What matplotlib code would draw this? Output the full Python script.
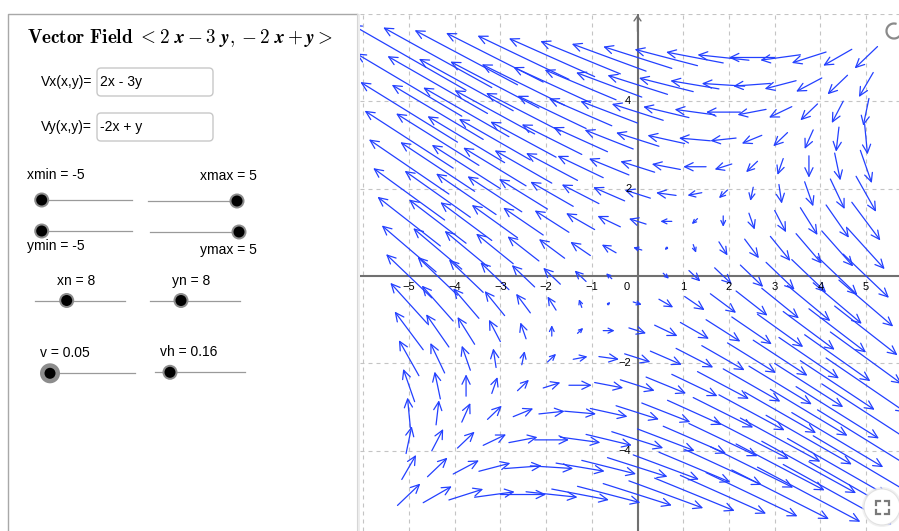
import numpy as np
import matplotlib.pyplot as plt
from matplotlib.patches import (FancyArrowPatch, ArrowStyle, FancyBboxPatch,
                                Circle, Rectangle, Arc)

plt.rcParams['mathtext.fontset'] = 'cm'

# --- field <2x - 3y, -2x + y> and slider settings ---
vx_text = "2x - 3y"
vy_text = "-2x + y"
xmin, xmax = -5, 5
ymin, ymax = -5, 5
xn, yn = 8, 8
v = 0.05
vh = 0.16


def Vx(x, y):
    return 2 * x - 3 * y


def Vy(x, y):
    return -2 * x + y


x_ticks = [-5, -4, -3, -2, -1, 1, 2, 3, 4, 5]
y_ticks = [-4, -2, 2, 4]

# visible window of the graphics view
view_x = (-6.07, 5.72)
view_y = (-5.835, 5.995)

W, H = 899, 531
GX, GY = 360, 14          # graphics view origin (px)
blue = '#2340ff'
axis_col = '#707070'
grid_col = '#c4c4c4'
panel_font = 'Liberation Sans'

fig = plt.figure(figsize=(W / 100, H / 100), dpi=100)
fig.patch.set_facecolor('white')

# --- left panel (pixel coords) ---
panel = fig.add_axes([0, 0, 1, 1])
panel.set_xlim(0, W)
panel.set_ylim(H, 0)
panel.axis('off')

panel.plot([8, 8, 357], [H, 14, 14], color='#a8a8a8', lw=1.0)
panel.add_patch(Rectangle((357, 14), 5, H - 14, fc='#eeeeee', ec='none'))
panel.plot([357, 357], [14, H], color='#d6d6d6', lw=0.8)

panel.text(27, 38,
           r"$\mathbf{Vector\ Field}\ <\mathbf{2}\ \boldsymbol{x}-\mathbf{3}\ "
           r"\boldsymbol{y},-\mathbf{2}\ \boldsymbol{x}+\boldsymbol{y}>$",
           fontsize=13.8, ha='left', va='center')

for yc, lab, txt in [(82, "Vx(x,y)=", vx_text), (127, "Vy(x,y)=", vy_text)]:
    panel.add_patch(FancyBboxPatch((97, yc - 14), 116, 28,
                                   boxstyle='round,pad=0,rounding_size=4',
                                   fc='white', ec='#c8c8c8', lw=1.0))
    panel.text(92, yc, lab, fontsize=10, family=panel_font, ha='right', va='center')
    panel.text(100, yc, txt, fontsize=10, family=panel_font, ha='left', va='center')


def slider(x0, x1, y, knob_x, big=False):
    panel.plot([x0, x1], [y, y], color='#9a9a9a', lw=0.9, zorder=2)
    panel.add_patch(Circle((knob_x, y), 10 if big else 7.5, fc='#8c8c8c',
                           ec='none', zorder=3))
    panel.add_patch(Circle((knob_x, y), 5.5, fc='black', ec='none', zorder=4))


slider_labels = [f"xmin = {xmin}", f"xmax = {xmax}", f"ymin = {ymin}",
                 f"ymax = {ymax}", f"xn = {xn}", f"yn = {yn}",
                 f"v = {v:.2f}", f"vh = {vh:.2f}"]
label_pos = [(27, 175), (200, 176), (27, 246), (200, 250),
             (57, 281), (172, 281), (40, 353), (160, 352)]
for (lx, ly), lab in zip(label_pos, slider_labels):
    panel.text(lx, ly, lab, fontsize=10, family=panel_font, ha='left', va='center')

slider(42, 132, 200, 41.7)
slider(148, 237, 201, 237)
slider(42, 132, 231, 41.7)
slider(150, 239, 232, 239)
slider(35, 125, 300.5, 66.7)
slider(150, 240, 300.5, 181)
slider(50, 135, 373.3, 50, big=True)
slider(155, 245, 372.3, 170)

# --- graphics view ---
ax = fig.add_axes([GX / W, 0, (W - GX) / W, (H - GY) / H])
ax.set_xlim(view_x)
ax.set_ylim(view_y)
ax.set_xticks([])
ax.set_yticks([])
for s in ax.spines.values():
    s.set_visible(False)

sx = (W - GX) / (view_x[1] - view_x[0])   # px per unit
sy = (H - GY) / (view_y[1] - view_y[0])
px_per_pt = 100 / 72

dash = (0, (3.6, 3.6))
for gx in range(-6, 6):
    ax.axvline(gx, color=grid_col, lw=0.8, ls=dash, zorder=1)
for gy in [-4, -2, 2, 4, 6]:
    ax.axhline(gy, color=grid_col, lw=0.8, ls=dash, zorder=1)

ax.axhline(0, color=axis_col, lw=1.5, zorder=2)
ax.axvline(0, color=axis_col, lw=1.5, zorder=2)
ax.annotate('', xy=(0, view_y[1] - 0.02), xytext=(0, view_y[1] - 0.4),
            arrowprops=dict(arrowstyle='->,head_length=0.35,head_width=0.25',
                            color=axis_col, lw=1.0, shrinkA=0, shrinkB=0))

for t in x_ticks:
    ax.annotate(str(t).replace('-', '\u2212'), (t, 0), xytext=(0, -8),
                textcoords='offset points', ha='center', va='center',
                fontsize=8, family=panel_font, zorder=4)
ax.annotate('0', (0, 0), xytext=(-7.5, -8), textcoords='offset points',
            ha='center', va='center', fontsize=8, family=panel_font, zorder=4)
for t in y_ticks:
    ax.annotate(str(t).replace('-', '\u2212'), (0, t), xytext=(-4.5, 0),
                textcoords='offset points', ha='right', va='center',
                fontsize=8, family=panel_font, zorder=4)

# arrows centred on the grid points, from p - v*F(p) to p + v*F(p)
xs = np.linspace(xmin, xmax, 2 * xn + 1)
ys = np.linspace(ymin, ymax, 2 * yn + 1)
for x in xs:
    for y in ys:
        fx, fy = Vx(x, y), Vy(x, y)
        L = np.hypot(2 * v * fx * sx, 2 * v * fy * sy)
        if L < 0.5:
            continue
        hl = min(8.5, 0.45 * L) / px_per_pt
        style = ArrowStyle('->', head_length=hl, head_width=0.48 * hl)
        ax.add_patch(FancyArrowPatch((x - v * fx, y - v * fy),
                                     (x + v * fx, y + v * fy),
                                     arrowstyle=style, mutation_scale=1,
                                     color=blue, lw=0.9, shrinkA=0,
                                     shrinkB=0, zorder=3))

# --- view controls drawn on top ---
over = fig.add_axes([0, 0, 1, 1], zorder=10)
over.set_xlim(0, W)
over.set_ylim(H, 0)
over.axis('off')

over.add_patch(Arc((894, 31), 15, 15, theta1=0, theta2=290,
                   color='#8a8a8a', lw=1.6))
over.add_patch(Circle((882, 507), 20, fc='#e8e8e8', ec='none', alpha=0.6))
over.add_patch(Circle((882, 507), 18, fc='white', ec='#e2e2e2', lw=0.8))
c, a = 6.5, 4
for ux, uy in [(-1, -1), (1, -1), (-1, 1), (1, 1)]:
    cx, cy = 882 + ux * c, 507 + uy * c
    over.plot([cx - ux * a, cx, cx], [cy, cy, cy - uy * a],
              color='#7a7a7a', lw=1.6, solid_joinstyle='miter')

fig.savefig('out.png', dpi=100, facecolor='white')
